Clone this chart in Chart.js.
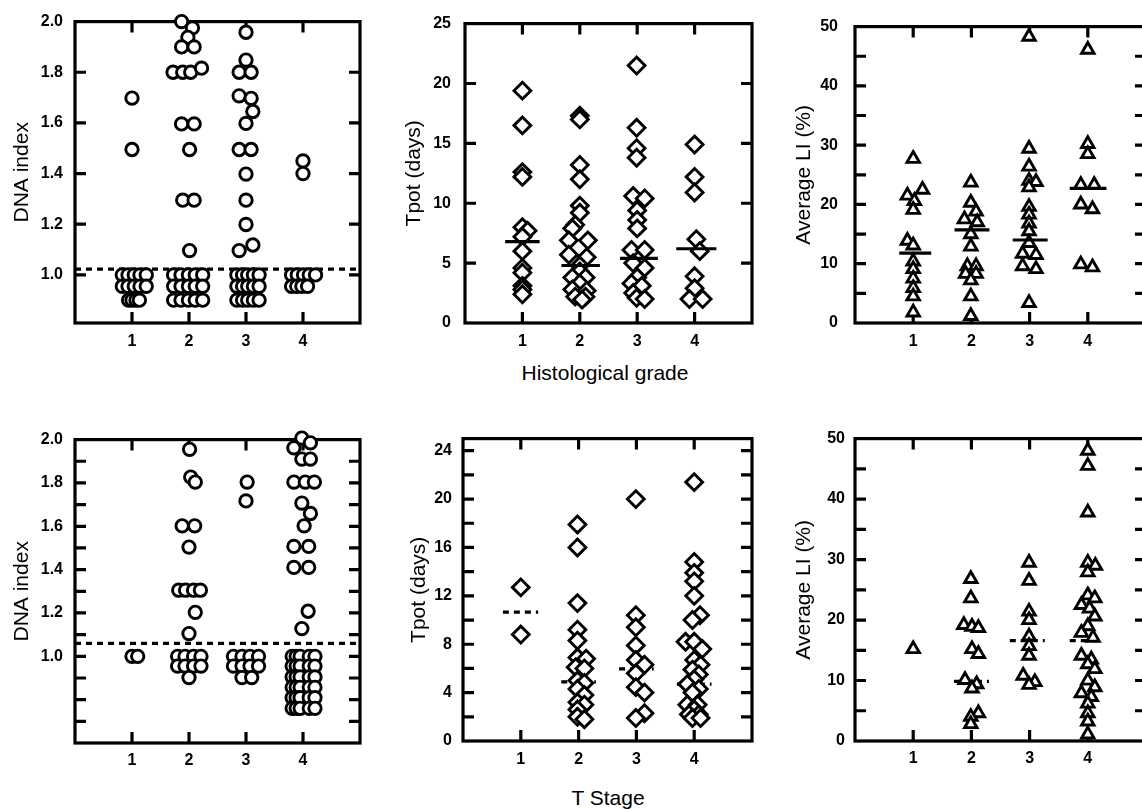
<!DOCTYPE html>
<html><head><meta charset="utf-8">
<script src="https://cdn.jsdelivr.net/npm/chart.js@4.4.1/dist/chart.umd.min.js"></script>
<style>
html,body{margin:0;padding:0;background:#fff;width:1142px;height:809px;overflow:hidden;position:relative;}
canvas{position:absolute;}
.xt{position:absolute;font-family:"Liberation Sans",Arial,sans-serif;font-size:21px;color:#000;transform:translate(-50%,-50%);white-space:nowrap;}
</style></head><body>
<div class="xt" style="left:605px;top:373px">Histological grade</div>
<div class="xt" style="left:608px;top:798px">T Stage</div>
<script>
// ---------- DATA (x = category position incl. visual spread, y = value) ----------
const categories = [1, 2, 3, 4];

// DNA index by histological grade
const dnaIndexByGrade = [
  [1.0,1.698],[1.0,1.495],
  [0.83,1.0],[0.93,1.0],[1.04,1.0],[1.14,1.0],[1.25,1.0],
  [0.83,0.955],[0.93,0.955],[1.04,0.955],[1.14,0.955],[1.25,0.955],
  [0.94,0.90],[1.0,0.90],[1.07,0.90],[1.13,0.90],
  [1.87,2.0],[2.06,1.975],[1.98,1.938],[1.87,1.9],[2.09,1.9],[1.72,1.8],[1.89,1.8],[2.03,1.8],[2.22,1.816],
  [1.87,1.596],[2.09,1.596],[2.01,1.495],[1.89,1.295],[2.09,1.295],[2.01,1.096],
  [1.73,1.0],[1.86,1.0],[1.99,1.0],[2.11,1.0],[2.24,1.0],
  [1.73,0.955],[1.86,0.955],[1.99,0.955],[2.11,0.955],[2.24,0.955],
  [1.73,0.90],[1.86,0.90],[1.99,0.90],[2.11,0.90],[2.24,0.90],
  [3.0,1.958],[3.0,1.848],[2.88,1.8],[3.09,1.8],[2.88,1.707],[3.09,1.697],[3.12,1.645],[3.0,1.598],
  [2.88,1.495],[3.09,1.495],[3.0,1.398],[3.0,1.295],[3.0,1.199],[3.12,1.118],[2.88,1.096],
  [2.84,1.0],[2.94,1.0],[3.03,1.0],[3.13,1.0],[3.23,1.0],
  [2.84,0.955],[2.94,0.955],[3.03,0.955],[3.13,0.955],[3.23,0.955],
  [2.84,0.90],[2.94,0.90],[3.03,0.90],[3.13,0.90],[3.23,0.90],
  [4.0,1.45],[4.0,1.40],
  [3.8,1.0],[3.9,1.0],[4.01,1.0],[4.11,1.0],[4.22,1.0],
  [3.8,0.955],[3.89,0.955],[3.98,0.955],[4.08,0.955]
];
const dnaGradeCutoff = 1.023;

// Tpot by histological grade
const tpotByGrade = [
  [1.0,19.4],[1.0,16.5],[1.0,12.6],[1.0,12.2],[1.0,8.0],[1.09,7.7],[1.0,7.2],[1.0,6.0],[1.0,4.6],[1.0,4.2],[1.0,3.1],[1.0,2.8],[1.0,2.4],
  [2.0,17.3],[2.0,17.0],[2.0,13.2],[2.0,12.0],[2.0,9.8],[2.0,9.2],[1.92,8.2],[1.87,7.9],[1.81,6.9],[2.14,6.9],[1.81,5.7],[2.12,5.5],
  [2.0,4.8],[2.0,4.3],[1.87,3.8],[2.1,3.8],[2.0,3.3],[1.87,2.8],[2.12,2.7],[1.92,2.2],[2.1,2.2],[2.04,1.95],
  [2.99,21.5],[2.99,16.3],[2.99,14.6],[2.99,13.8],[2.93,10.6],[3.13,10.4],[3.0,9.4],[3.0,8.6],[3.0,7.9],[2.9,6.1],[3.13,6.1],
  [2.93,5.0],[3.13,4.6],[3.0,3.8],[2.9,3.3],[3.08,3.1],[2.93,2.5],[2.99,2.1],[3.13,2.0],
  [4.0,14.9],[4.0,12.2],[4.0,10.9],[4.03,7.0],[4.09,6.0],[4.0,3.9],[4.0,2.9],[3.91,2.0],[4.14,2.0]
];
const tpotGradeMedians = [6.8, 4.8, 5.4, 6.2];
const tpotGradeMedianSpans = [[0.7,1.3],[1.68,2.35],[2.7,3.36],[3.68,4.38]];

// Average LI by histological grade
const liByGrade = [
  [1.0,27.7],[1.16,22.5],[0.9,21.5],[1.02,20.6],[1.0,19.1],[0.9,13.9],[1.0,13.1],[1.0,10.4],[1.0,9.1],[1.0,7.5],[1.0,5.9],[1.0,4.5],[1.0,1.8],
  [1.99,23.7],[1.99,20.3],[2.08,18.8],[1.88,17.5],[2.1,17.0],[1.99,15.0],[1.99,12.9],[1.93,9.6],[2.08,9.6],[1.9,8.3],[2.08,8.3],[1.99,7.2],[1.99,4.5],[1.99,1.2],
  [2.99,48.3],[2.99,29.4],[2.99,26.4],[2.99,24.0],[3.11,23.8],[2.99,22.9],[2.99,19.6],[2.99,18.3],[2.99,16.8],[2.99,15.5],[2.99,13.5],
  [2.88,11.7],[3.11,11.5],[2.88,9.6],[3.11,9.1],[2.99,3.4],
  [4.0,46.1],[4.0,30.2],[4.0,28.5],[3.88,23.3],[4.11,23.3],[3.88,20.0],[4.08,19.2],[3.88,9.9],[4.08,9.4]
];
const liGradeMedians = [11.8, 15.7, 14.0, 22.7];
const liGradeMedianSpans = [[0.76,1.31],[1.71,2.31],[2.71,3.31],[3.69,4.32]];

// DNA index by T stage
const dnaIndexByStage = [
  [1.0,1.0],[1.1,1.0],
  [2.01,1.955],[2.03,1.827],[2.11,1.804],[1.88,1.602],[2.1,1.602],[2.0,1.504],
  [1.82,1.305],[1.94,1.305],[2.08,1.305],[2.2,1.305],[2.11,1.203],[2.0,1.105],
  [1.8,1.0],[1.93,1.0],[2.08,1.0],[2.21,1.0],
  [1.8,0.955],[1.93,0.955],[2.08,0.955],[2.21,0.955],[2.0,0.902],
  [3.02,1.804],[3.0,1.717],
  [2.78,1.0],[2.93,1.0],[3.07,1.0],[3.22,1.0],
  [2.78,0.955],[2.93,0.955],[3.07,0.955],[3.22,0.955],[2.93,0.902],[3.1,0.902],
  [3.98,2.007],[4.13,1.985],[3.84,1.962],[3.98,1.91],[4.13,1.91],[3.84,1.804],[4.04,1.804],[4.2,1.804],
  [3.98,1.707],[4.13,1.659],[4.02,1.602],[3.84,1.507],[4.1,1.507],[3.84,1.41],[4.1,1.41],[4.09,1.208],[3.98,1.128],
  [3.81,1.0],[3.88,1.0],[3.95,1.0],[4.11,1.0],[4.21,1.0],
  [3.81,0.955],[3.88,0.955],[3.95,0.955],[4.11,0.955],[4.21,0.955],
  [3.81,0.905],[3.88,0.905],[3.95,0.905],[4.11,0.905],[4.21,0.905],
  [3.81,0.857],[3.88,0.857],[3.95,0.857],[4.11,0.857],[4.21,0.857],
  [3.81,0.809],[3.88,0.809],[3.95,0.809],[4.11,0.809],[4.21,0.809],
  [3.81,0.76],[3.88,0.76],[3.95,0.76],[4.11,0.76],[4.21,0.76]
];
const dnaStageCutoff = 1.06;

// Tpot by T stage
const tpotByStage = [
  [1.0,12.7],[1.0,8.8],
  [1.98,17.9],[1.98,16.0],[1.98,11.4],[1.98,9.2],[1.98,8.3],[1.98,6.9],[2.13,6.8],[1.95,6.1],[2.1,6.0],
  [1.98,5.0],[2.1,4.8],[1.98,4.3],[2.1,3.8],[1.98,3.2],[2.1,3.0],[1.98,2.6],[1.98,2.0],[2.1,1.8],
  [2.99,20.0],[2.99,10.4],[2.99,9.4],[2.99,7.9],[2.99,6.7],[3.14,6.3],[2.99,5.6],[2.99,4.45],[3.14,4.0],[3.14,2.3],[2.99,1.9],
  [4.0,21.4],[4.0,14.8],[4.0,13.9],[4.0,13.2],[4.0,12.0],[4.1,10.4],[3.97,10.0],[3.85,8.2],[4.0,8.2],[4.14,7.6],
  [4.0,6.7],[4.11,6.3],[3.97,5.9],[4.08,5.5],[4.0,5.1],[3.88,4.7],[4.08,4.3],[3.97,4.0],[3.88,3.0],[4.06,3.0],
  [4.0,2.6],[3.91,2.2],[4.08,2.2],[3.97,1.9],[4.11,1.9]
];
const tpotStageMedians = [10.65, 4.88, 5.96, 4.7];
const tpotStageMedianSpans = [[0.69,1.3],[1.7,2.3],[2.7,3.3],[3.7,4.3]];

// Average LI by T stage
const liByStage = [
  [1.0,15.2],
  [1.99,26.8],[1.99,23.6],[1.87,19.2],[2.01,18.9],[2.12,18.7],[2.01,15.2],[2.12,14.4],[1.89,10.1],[2.09,9.4],[2.01,8.7],[2.12,4.6],[1.99,4.0],[1.99,2.8],
  [2.99,29.5],[2.99,26.5],[2.99,21.4],[2.99,20.0],[2.99,17.3],[2.99,15.7],[2.99,14.1],[2.89,10.8],[3.09,9.75],[2.99,9.3],
  [4.0,48.0],[4.0,45.5],[4.0,37.8],[4.0,29.5],[4.13,29.0],[4.0,27.9],[4.0,24.1],[4.12,23.6],[3.89,22.5],[4.03,21.9],[4.12,20.6],
  [4.0,19.0],[3.89,17.9],[4.09,17.1],[3.89,14.1],[4.06,13.5],[4.0,12.7],[4.12,11.9],[4.0,10.0],[4.12,8.9],[3.89,7.9],[4.06,7.3],
  [4.0,6.2],[4.0,4.6],[4.0,3.25],[4.0,1.1]
];
const liStageMedians = [null, 9.86, 16.6, 16.6];
const liStageMedianSpans = [null,[1.7,2.3],[2.66,3.26],[3.69,4.25]];

// Y-axis tick values
const dnaGradeTicks = [1.0, 1.2, 1.4, 1.6, 1.8, 2.0];
const tpotGradeTicks = [0, 5, 10, 15, 20, 25];
const liTicks = [0, 5, 10, 15, 20, 25, 30, 35, 40, 45, 50];
const dnaStageTicks = [0.7, 0.8, 0.9, 1.0, 1.1, 1.2, 1.3, 1.4, 1.5, 1.6, 1.7, 1.8, 1.9, 2.0];
const tpotStageTicks = [0, 2, 4, 6, 8, 10, 12, 14, 16, 18, 20, 22, 24];

// ---------- RENDERING ----------
Chart.defaults.font.family = '"Liberation Sans", Arial, sans-serif';
Chart.defaults.color = '#000';
const WY = 75, PT = 15, PR = 12, HX = 42;

const framePlugin = {
  id: 'frame',
  beforeDatasetsDraw(chart) {
    const {ctx, chartArea: a, scales: {x, y}} = chart;
    const tl = 11;
    ctx.save();
    ctx.strokeStyle = '#000';
    ctx.lineWidth = 3.2;
    ctx.beginPath();
    x.ticks.forEach(t => {
      const px = x.getPixelForValue(t.value);
      ctx.moveTo(px, a.top); ctx.lineTo(px, a.top + tl);
      ctx.moveTo(px, a.bottom); ctx.lineTo(px, a.bottom - tl);
    });
    y.ticks.forEach(t => {
      if (Math.abs(t.value - y.max) < 1e-6 || Math.abs(t.value - y.min) < 1e-6) return;
      const py = y.getPixelForValue(t.value);
      ctx.moveTo(a.left, py); ctx.lineTo(a.left + tl, py);
      ctx.moveTo(a.right, py); ctx.lineTo(a.right - tl, py);
    });
    ctx.stroke();
    ctx.lineJoin = 'miter';
    ctx.strokeRect(a.left, a.top, a.right - a.left, a.bottom - a.top);
    ctx.restore();
  }
};
Chart.register(framePlugin);

function medianLines(vals, spans, dashed) {
  const out = [];
  vals.forEach((v, i) => { if (v !== null) out.push([spans[i][0], spans[i][1], v, dashed]); });
  return out;
}

function makePanel(p) {
  const [L, T, R, B] = p.rect;
  const cv = document.createElement('canvas');
  const w = (R - L) + WY + PR, h = (B - T) + PT + HX;
  cv.width = w; cv.height = h;
  cv.style.left = (L - WY) + 'px'; cv.style.top = (T - PT) + 'px';
  cv.style.width = w + 'px'; cv.style.height = h + 'px';
  document.body.appendChild(cv);
  const datasets = [{
    data: p.points.map(([x, y]) => ({x, y})),
    pointStyle: p.shape, pointRadius: p.r, pointBorderWidth: 2.9,
    pointBorderColor: '#000', pointBackgroundColor: '#fff',
    borderColor: '#000', backgroundColor: '#fff', clip: false, order: 1
  }];
  p.lines.forEach(l => datasets.push({
    data: [{x: l[0], y: l[2]}, {x: l[1], y: l[2]}],
    showLine: true, pointRadius: 0, borderColor: '#000', borderWidth: 3.2,
    borderDash: l[3] ? [6, 5] : [], order: p.linesOver ? 0 : 2, clip: false
  }));
  new Chart(cv, {
    type: 'scatter',
    data: {datasets},
    options: {
      responsive: false, animation: false, events: [],
      layout: {padding: {top: PT, right: PR, left: 0, bottom: 0}},
      plugins: {legend: {display: false}, tooltip: {enabled: false}},
      scales: {
        x: {
          type: 'linear', min: 0, max: 5,
          grid: {display: false, drawTicks: false}, border: {display: false},
          afterBuildTicks: s => { s.ticks = categories.map(v => ({value: v})); },
          afterFit: s => { s.height = HX; },
          ticks: {padding: p.xPad, font: {size: 16, weight: 'bold'}, color: '#000',
                  autoSkip: false, maxRotation: 0, callback: v => String(v)}
        },
        y: {
          type: 'linear', min: p.yRange[0], max: p.yRange[1],
          grid: {display: false, drawTicks: false}, border: {display: false},
          afterBuildTicks: s => { s.ticks = p.yTicks.map(v => ({value: v})); },
          afterFit: s => { s.width = WY; },
          ticks: {padding: p.yPad, font: {size: 16, weight: 'bold'}, color: '#000',
                  autoSkip: false, callback: v => p.yFmt(v)},
          title: {display: true, text: p.yTitle, font: {size: 21}, color: '#000',
                  padding: {top: p.titlePad, bottom: 0}}
        }
      }
    }
  });
}

const circle = {shape: 'circle', r: 6.2};
const diamond = {shape: 'rectRot', r: 8.4};
const triangle = {shape: 'triangle', r: 7.2};

makePanel({rect: [75, 15, 360, 323], yRange: [0.81, 2.0], yTicks: dnaGradeTicks,
  yFmt: v => v.toFixed(1), yTitle: 'DNA index', titlePad: 10, yPad: 12, xPad: 9,
  points: dnaIndexByGrade, ...circle, lines: [[0, 5, dnaGradeCutoff, true]], linesOver: false});

makePanel({rect: [465, 15, 752, 323], yRange: [0, 25], yTicks: tpotGradeTicks,
  yFmt: v => String(v), yTitle: 'Tpot (days)', titlePad: 12, yPad: 14, xPad: 9,
  points: tpotByGrade, ...diamond, lines: medianLines(tpotGradeMedians, tpotGradeMedianSpans, false), linesOver: true});

makePanel({rect: [855, 15, 1146, 323], yRange: [0, 50], yTicks: liTicks,
  yFmt: v => (v % 10 === 0 ? String(v) : ''), yTitle: 'Average LI (%)', titlePad: 12, yPad: 17, xPad: 9,
  points: liByGrade, ...triangle, lines: medianLines(liGradeMedians, liGradeMedianSpans, false), linesOver: true});

makePanel({rect: [75, 433, 360, 743], yRange: [0.6, 2.0], yTicks: dnaStageTicks,
  yFmt: v => (v > 0.99 && Math.round(v * 10) % 2 === 0 ? v.toFixed(1) : ''), yTitle: 'DNA index', titlePad: 10, yPad: 12, xPad: 8,
  points: dnaIndexByStage, ...circle, lines: [[0, 5, dnaStageCutoff, true]], linesOver: false});

makePanel({rect: [463, 433, 752, 741], yRange: [0, 25], yTicks: tpotStageTicks,
  yFmt: v => (v % 4 === 0 ? String(v) : ''), yTitle: 'Tpot (days)', titlePad: 19, yPad: 11, xPad: 9,
  points: tpotByStage, ...diamond, lines: medianLines(tpotStageMedians, tpotStageMedianSpans, true), linesOver: false});

makePanel({rect: [855, 434, 1146, 741], yRange: [0, 50], yTicks: liTicks,
  yFmt: v => (v % 10 === 0 ? String(v) : ''), yTitle: 'Average LI (%)', titlePad: 12, yPad: 10, xPad: 8,
  points: liByStage, ...triangle, lines: medianLines(liStageMedians, liStageMedianSpans, true), linesOver: false});
</script>
</body></html>
